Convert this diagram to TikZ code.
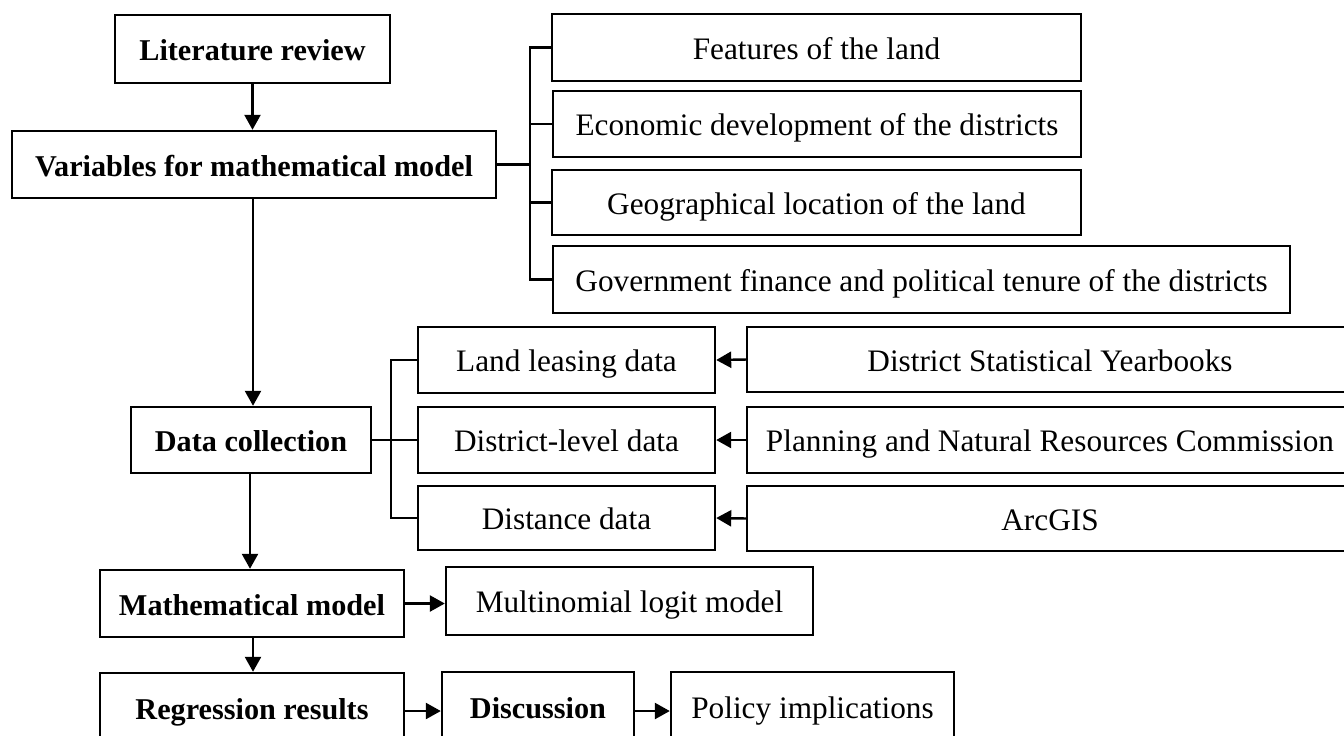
\documentclass[tikz,border=0pt]{standalone}
\usepackage{fontspec}
\setmainfont{Liberation Serif}
\usetikzlibrary{arrows.meta}
\tikzset{box/.style={draw=black,line width=1.4pt,inner sep=0pt,text height=13.6pt,text depth=0pt,font=\fontsize{17.8}{20}\selectfont}}
\tikzset{headbox/.style={box,font=\fontsize{17.2}{20}\selectfont\bfseries}}
\tikzset{link/.style={line width=1.4pt,-{Triangle[length=0.3cm,width=0.32cm]}}}
\tikzset{tie/.style={line width=1.4pt}}

\begin{document}
\begin{tikzpicture}[x=0.02cm,y=-0.02cm]
\useasboundingbox (0,0) rectangle (1344,735);
\clip (0,0) rectangle (1344,735);
  % left column
  \node[headbox,minimum width=5.5cm,minimum height=1.36cm] (lit) at (252.5,49) {Literature review};
  \node[headbox,minimum width=9.68cm,minimum height=1.34cm] (vars) at (254,164.5) {Variables for mathematical model};
  \node[headbox,minimum width=4.8cm,minimum height=1.32cm] (coll) at (251,440) {Data collection};
  \node[headbox,minimum width=6.08cm,minimum height=1.34cm] (model) at (252,603.5) {Mathematical model};
  \node[headbox,minimum width=6.08cm,minimum height=1.4cm] (reg) at (252,708) {Regression results};
  \node[headbox,minimum width=3.84cm,minimum height=1.4cm] (disc) at (538,707) {Discussion};
  \node[box,minimum width=5.66cm,minimum height=1.4cm] (policy) at (812.5,707) {Policy implications};
  \node[box,minimum width=7.34cm,minimum height=1.36cm] (mlogit) at (629.5,601) {Multinomial logit model};
  % variables
  \node[box,minimum width=10.58cm,minimum height=1.34cm] (feat) at (816.5,47.5) {Features of the land};
  \node[box,minimum width=10.56cm,minimum height=1.32cm] (econ) at (817,124) {Economic development of the districts};
  \node[box,minimum width=10.58cm,minimum height=1.3cm] (geo) at (816.5,202.5) {Geographical location of the land};
  \node[box,minimum width=14.74cm,minimum height=1.34cm] (gov) at (921.5,279.5) {Government finance and political tenure of the districts};
  % data
  \node[box,minimum width=5.94cm,minimum height=1.32cm] (lease) at (566.5,360) {Land leasing data};
  \node[box,minimum width=5.94cm,minimum height=1.32cm] (dist) at (566.5,440) {District-level data};
  \node[box,minimum width=5.94cm,minimum height=1.28cm] (far) at (566.5,518) {Distance data};
  \node[box,minimum width=12.12cm,minimum height=1.3cm] (yb) at (1050,359.5) {District Statistical Yearbooks};
  \node[box,minimum width=12.12cm,minimum height=1.32cm] (plan) at (1050,440) {Planning and Natural Resources Commission};
  \node[box,minimum width=12.12cm,minimum height=1.3cm] (arc) at (1050,518.5) {ArcGIS};
  \coordinate (vbus) at (530,0);
  \coordinate (dbus) at (391,0);

  \draw[link] (lit.south) -- (vars.north -| lit.south);
  \draw[link] (vars.south -| 253,0) -- (coll.north -| 253,0);
  \draw[link] (coll.south -| 250,0) -- (model.north -| 250,0);
  \draw[link] (model.south -| 253,0) -- (reg.north -| 253,0);
  \draw[link] (model.east) -- (model.east -| mlogit.west);
  \draw[link] (reg.east |- 0,711) -- (disc.west |- 0,711);
  \draw[link] (disc.east |- 0,711) -- (policy.west |- 0,711);

  \draw[tie] (vars.east) -- (vars.east -| vbus);
  \draw[tie] (feat.west) -- (feat.west -| vbus) -- (gov.west -| vbus) -- (gov.west);
  \draw[tie] (econ.west) -- (econ.west -| vbus);
  \draw[tie] (geo.west) -- (geo.west -| vbus);

  \draw[tie] (coll.east) -- (coll.east -| dbus);
  \draw[tie] (lease.west) -- (lease.west -| dbus) -- (far.west -| dbus) -- (far.west);
  \draw[tie] (dist.west) -- (dist.west -| dbus);

  \draw[link] (yb.west) -- (lease.east);
  \draw[link] (plan.west) -- (dist.east);
  \draw[link] (arc.west) -- (far.east);
\end{tikzpicture}
\end{document}
